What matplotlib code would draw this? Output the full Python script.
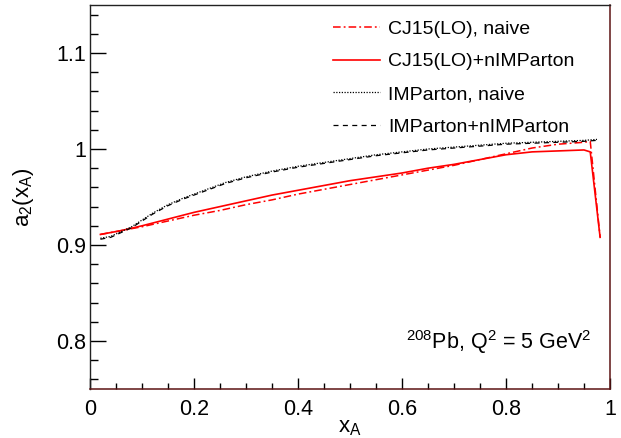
import numpy as np
import matplotlib
matplotlib.use("Agg")
import matplotlib.pyplot as plt
from matplotlib.ticker import MultipleLocator

plt.rcParams['font.family'] = ['Liberation Sans', 'DejaVu Sans']
plt.rcParams['mathtext.fontset'] = 'custom'
plt.rcParams['mathtext.rm'] = 'Liberation Sans'
plt.rcParams['mathtext.it'] = 'Liberation Sans'

# values
x_cj = [0.02, 0.06, 0.10, 0.15, 0.20, 0.25, 0.30, 0.35, 0.40, 0.45, 0.50,
        0.55, 0.60, 0.65, 0.70, 0.75, 0.80, 0.85, 0.90, 0.95, 0.962, 0.981]
cj_naive = [0.911, 0.915, 0.919, 0.925, 0.931, 0.936, 0.942, 0.947, 0.953, 0.958, 0.963,
            0.968, 0.973, 0.978, 0.983, 0.989, 0.995, 1.001, 1.005, 1.007, 1.008, 0.908]
cj_nimp = [0.911, 0.915, 0.920, 0.927, 0.934, 0.940, 0.946, 0.952, 0.957, 0.962, 0.967,
           0.971, 0.975, 0.980, 0.984, 0.989, 0.994, 0.997, 0.998, 0.999, 0.997, 0.908]

x_imp = [0.02, 0.04, 0.06, 0.08, 0.10, 0.12, 0.15, 0.18, 0.22, 0.26, 0.30, 0.35,
         0.40, 0.45, 0.50, 0.55, 0.60, 0.65, 0.70, 0.75, 0.80, 0.85, 0.90, 0.95, 0.975]
imp_naive = [0.907, 0.909, 0.914, 0.919, 0.926, 0.933, 0.942, 0.949, 0.957, 0.965, 0.971, 0.977,
             0.982, 0.986, 0.990, 0.994, 0.997, 1.000, 1.002, 1.004, 1.006, 1.007, 1.008, 1.009, 1.010]
imp_nimp = [0.906, 0.908, 0.913, 0.918, 0.925, 0.932, 0.941, 0.948, 0.956, 0.964, 0.970, 0.976,
            0.981, 0.985, 0.989, 0.993, 0.996, 0.999, 1.001, 1.003, 1.005, 1.006, 1.007, 1.008, 1.009]

labels = ['CJ15(LO), naive', 'CJ15(LO)+nIMParton', 'IMParton, naive', 'IMParton+nIMParton']

fig = plt.figure(figsize=(6.21, 4.38), dpi=100)
ax = fig.add_axes([90/621, 1-389/438, 520/621, 384/438])

ax.plot(x_cj, cj_naive, color='red', lw=1.1, dashes=(5, 2, 1.2, 2), label=labels[0])
ax.plot(x_cj, cj_nimp, color='red', lw=1.2, label=labels[1])
ax.plot(x_imp, imp_naive, color='black', lw=0.9, dashes=(1, 1.2), label=labels[2])
ax.plot(x_imp, imp_nimp, color='black', lw=0.9, dashes=(4, 3.5), label=labels[3])

ax.set_xlim(0, 1)
ax.set_ylim(0.75, 1.15)
ax.xaxis.set_minor_locator(MultipleLocator(0.05))
ax.yaxis.set_minor_locator(MultipleLocator(0.02))
ax.set_xticks([0, 0.2, 0.4, 0.6, 0.8, 1.0], ['0', '0.2', '0.4', '0.6', '0.8', '1'])
ax.set_yticks([0.8, 0.9, 1.0, 1.1], ['0.8', '0.9', '1', '1.1'])

ax.tick_params(axis='both', which='both', direction='in', width=1, labelsize=15.5)
ax.tick_params(axis='x', which='major', length=8, pad=7)
ax.tick_params(axis='x', which='minor', length=4.3)
ax.tick_params(axis='y', which='major', length=11.5, pad=3)
ax.tick_params(axis='y', which='minor', length=5.8)

for side in ['left', 'top']:
    ax.spines[side].set_linewidth(1.0)
    ax.spines[side].set_color('#222222')
for side in ['right', 'bottom']:
    ax.spines[side].set_linewidth(1.1)
    ax.spines[side].set_color('#5c1414')

ax.set_xlabel('x$_\\mathregular{A}$', fontsize=16, labelpad=-2)
ax.set_ylabel('a$_\\mathregular{2}$(x$_\\mathregular{A}$)', fontsize=16, labelpad=14)

ax.text(0.965, 0.105, '$^{208}$Pb, Q$^{2}$ = 5 GeV$^{2}$', transform=ax.transAxes,
        ha='right', va='baseline', fontsize=15.5)

ax.legend(loc='upper left', bbox_to_anchor=((333-90)/520, 1-(20-5)/384), frameon=False,
          fontsize=14, handlelength=2.4, handletextpad=0.45, labelspacing=0.78,
          borderpad=0, borderaxespad=0)

fig.savefig('out.png', dpi=100)
